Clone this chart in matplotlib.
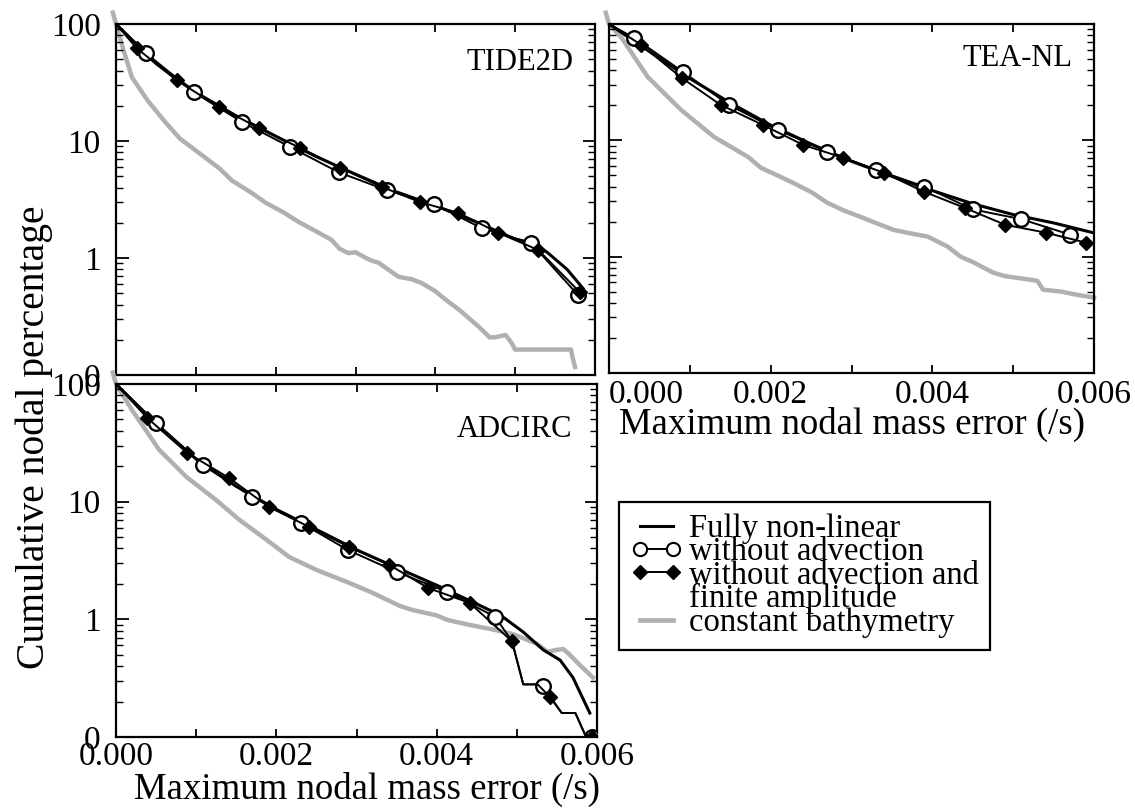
import matplotlib
matplotlib.use('Agg')
import matplotlib.pyplot as plt
from matplotlib.ticker import FixedLocator, LogLocator, NullFormatter, FixedFormatter
from matplotlib.lines import Line2D

# ---------------- data ----------------
x_ticks = [0.0, 0.001, 0.002, 0.003, 0.004, 0.005, 0.006]
x_tick_labels = ['0.000', '', '0.002', '', '0.004', '', '0.006']
y_ticks = [0.1, 1, 10, 100]
y_tick_labels = ['0', '1', '10', '100']

# TIDE2D
tide_full_x = [0, 0.0005, 0.001, 0.0015, 0.002, 0.0025, 0.003, 0.0035, 0.004, 0.0045, 0.005, 0.0052, 0.0054, 0.00565, 0.00585]
tide_full_y = [100, 46, 26, 16.5, 11, 7.4, 5.2, 3.7, 2.8, 2.05, 1.45, 1.35, 1.12, 0.8, 0.55]
tide_circ_x = [0, 0.00038, 0.00098, 0.00158, 0.00218, 0.00279, 0.00339, 0.00398, 0.00458, 0.00520, 0.00579]
tide_circ_y = [100, 56, 26, 14.5, 8.9, 5.4, 3.8, 2.9, 1.8, 1.34, 0.48]
tide_dia_x = [0, 0.00026, 0.00076, 0.00129, 0.00179, 0.00231, 0.00281, 0.00333, 0.00381, 0.00429, 0.00479, 0.00529, 0.00581]
tide_dia_y = [100, 62, 33, 19.5, 12.9, 8.7, 5.9, 4.05, 3.0, 2.43, 1.64, 1.17, 0.51]
tide_const_x = [-0.00004, 0, 0.0001, 0.0002, 0.0004, 0.000625, 0.0008, 0.00104, 0.0013, 0.00145, 0.0017,
                0.00188, 0.0021, 0.00229, 0.0025, 0.0027, 0.0028, 0.00291, 0.003, 0.00313, 0.0032, 0.00329,
                0.00354, 0.0037, 0.00383, 0.004, 0.00413, 0.0043, 0.00454, 0.00468, 0.00475, 0.00488, 0.00495,
                0.005, 0.0057, 0.00572, 0.00575]
tide_const_y = [125, 100, 58, 35, 22, 14.3, 10.5, 7.9, 5.8, 4.6, 3.6, 2.95, 2.45, 2.03, 1.7, 1.43, 1.2, 1.10,
                1.12, 1.0, 0.95, 0.91, 0.69, 0.66, 0.61, 0.52, 0.44, 0.36, 0.26, 0.21, 0.21, 0.22, 0.19,
                0.165, 0.165, 0.14, 0.117]

# TEA-NL
tea_full_x = [0, 0.0005, 0.001, 0.0015, 0.002, 0.0025, 0.003, 0.0035, 0.004, 0.0045, 0.005, 0.0055, 0.006]
tea_full_y = [100, 58, 34, 21, 13.5, 9.3, 6.6, 4.9, 3.7, 2.85, 2.3, 1.95, 1.6]
tea_circ_x = [0, 0.00031, 0.00091, 0.00148, 0.00209, 0.0027, 0.0033, 0.0039, 0.0045, 0.0051, 0.0057]
tea_circ_y = [100, 76, 39, 20.2, 12.3, 8.0, 5.6, 4.0, 2.55, 2.1, 1.55]
tea_dia_x = [0, 0.0004, 0.0009, 0.00138, 0.0019, 0.0024, 0.0029, 0.0034, 0.0039, 0.0044, 0.0049, 0.0054, 0.0059]
tea_dia_y = [100, 66, 34.4, 20.2, 13.6, 9.15, 7.07, 5.26, 3.61, 2.63, 1.88, 1.61, 1.32]
tea_const_x = [-0.00004, 0, 0.00015, 0.00048, 0.00089, 0.0013, 0.00172, 0.00188, 0.00212, 0.00228, 0.0025,
               0.0027, 0.0029, 0.00311, 0.0033, 0.00352, 0.0037, 0.00394, 0.00419, 0.00435, 0.0045, 0.00475,
               0.0049, 0.00517, 0.0053, 0.00537, 0.0056, 0.00579, 0.006]
tea_const_y = [125, 100, 77, 35, 18.3, 10.7, 7.2, 5.8, 4.86, 4.3, 3.6, 2.91, 2.5, 2.2, 1.95, 1.7, 1.6, 1.49,
               1.22, 1.0, 0.9, 0.73, 0.68, 0.64, 0.62, 0.52, 0.5, 0.47, 0.445]

# ADCIRC
adc_full_x = [0, 0.0005, 0.001, 0.0015, 0.002, 0.0025, 0.003, 0.0035, 0.004, 0.0045, 0.0048, 0.00508,
              0.00533, 0.00554, 0.0057, 0.00591]
adc_full_y = [100, 46, 23, 13.5, 8.6, 5.8, 3.9, 2.75, 1.95, 1.35, 1.08, 0.78, 0.55, 0.45, 0.32, 0.16]
adc_circ_x = [0, 0.0005, 0.00108, 0.0017, 0.00231, 0.00289, 0.0035, 0.00413, 0.00473, 0.00494, 0.00508,
              0.00526, 0.00533, 0.00546, 0.00556, 0.00573, 0.00585, 0.00594]
adc_circ_y = [100, 46.6, 20.5, 11.0, 6.6, 3.89, 2.53, 1.71, 1.05, 0.65, 0.28, 0.28, 0.27, 0.2, 0.16, 0.16,
              0.105, 0.1]
adc_circ_marks = [1, 2, 3, 4, 5, 6, 7, 8, 12, 17]
adc_dia_x = [0, 0.00039, 0.00089, 0.00141, 0.00191, 0.00241, 0.00291, 0.00341, 0.00389, 0.00441, 0.00494,
             0.00508, 0.00526, 0.00541, 0.00556, 0.00573, 0.00585, 0.00594]
adc_dia_y = [100, 51.4, 25.9, 15.9, 9.0, 6.1, 4.12, 2.9, 1.85, 1.38, 0.65, 0.28, 0.28, 0.22, 0.16, 0.16,
             0.105, 0.1]
adc_dia_marks = [1, 2, 3, 4, 5, 6, 7, 8, 9, 10, 13, 17]
adc_const_x = [-0.00004, 0, 0.0002, 0.00054, 0.00088, 0.00125, 0.00154, 0.00188, 0.00216, 0.0025, 0.00291,
               0.0032, 0.00354, 0.0037, 0.004, 0.00413, 0.0044, 0.0047, 0.00495, 0.00513, 0.00525, 0.00538,
               0.0055, 0.00558, 0.00566, 0.0058, 0.00595]
adc_const_y = [125, 100, 60, 27.5, 16.2, 10.3, 7.0, 4.73, 3.39, 2.63, 2.04, 1.68, 1.3, 1.2, 1.08, 0.99, 0.9,
               0.82, 0.75, 0.67, 0.62, 0.53, 0.55, 0.56, 0.5, 0.4, 0.32]

legend_labels = ['Fully non-linear', 'without advection', 'without advection and', 'finite amplitude',
                 'constant bathymetry']

# ---------------- style ----------------
plt.rcParams['font.family'] = ['Liberation Serif', 'DejaVu Serif']
FS = 22
TICK_FS = 24
GRAY = '#b0b0b0'

fig = plt.figure(figsize=(11.35, 8.08), dpi=100)


def fx(px):
    return px / 1135.0


def fy(py):
    return 1 - py / 808.0


def make_axes(l, t, r, b):
    return fig.add_axes([fx(l), fy(b), fx(r) - fx(l), fy(t) - fy(b)])


def style(ax, show_x, show_y, xpad=3):
    ax.set_yscale('log')
    ax.set_xlim(0, 0.006)
    ax.set_ylim(0.1, 100)
    for s in ax.spines.values():
        s.set_linewidth(1.6)
    ax.xaxis.set_major_locator(FixedLocator(x_ticks))
    ax.yaxis.set_major_locator(FixedLocator(y_ticks))
    ax.yaxis.set_minor_locator(LogLocator(base=10, subs=[2, 3, 4, 5, 6, 7, 8, 9]))
    ax.yaxis.set_minor_formatter(NullFormatter())
    ax.tick_params(which='both', direction='in', top=True, right=True, labelsize=TICK_FS)
    ax.tick_params(axis='x', which='major', length=6, width=1.3, pad=xpad)
    ax.tick_params(axis='y', which='major', length=9, width=1.3, pad=11)
    ax.tick_params(axis='y', which='minor', length=5, width=1.0)
    if show_x:
        ax.xaxis.set_major_formatter(FixedFormatter(x_tick_labels))
    else:
        ax.set_xticklabels([])
    if show_y:
        ax.yaxis.set_major_formatter(FixedFormatter(y_tick_labels))
    else:
        ax.set_yticklabels([])


def draw(ax, cx, cy, dx, dy, fxs, fys, gx, gy, cmarks=None, dmarks=None):
    if cmarks is None:
        cmarks = list(range(1, len(cx)))
    if dmarks is None:
        dmarks = list(range(1, len(dx)))
    ax.plot(gx, gy, color=GRAY, lw=3.2, clip_on=False, zorder=1, solid_joinstyle='round')
    ax.plot(fxs, fys, color='black', lw=2.2, zorder=3)
    ax.plot(cx, cy, color='black', lw=1.4, marker='o', ms=10.5, mfc='white', mec='black', mew=1.7,
            markevery=cmarks, zorder=4)
    ax.plot(dx, dy, color='black', lw=1.4, marker='D', ms=7.5, mfc='black', mec='black',
            markevery=dmarks, zorder=5)


ax1 = make_axes(116, 24, 595, 375)
ax2 = make_axes(609, 24, 1094, 373)
ax3 = make_axes(116, 384, 597, 737)

draw(ax1, tide_circ_x, tide_circ_y, tide_dia_x, tide_dia_y, tide_full_x, tide_full_y,
     tide_const_x, tide_const_y)
draw(ax2, tea_circ_x, tea_circ_y, tea_dia_x, tea_dia_y, tea_full_x, tea_full_y,
     tea_const_x, tea_const_y)
draw(ax3, adc_circ_x, adc_circ_y, adc_dia_x, adc_dia_y, adc_full_x, adc_full_y,
     adc_const_x, adc_const_y, adc_circ_marks, adc_dia_marks)

style(ax1, False, True)
style(ax2, True, False, xpad=5)
style(ax3, True, True, xpad=3)

# first TEA-NL tick label sits to the right of its tick in the original
ax2.get_xticklabels()[0].set_horizontalalignment('left')

ax1.text(0.955, 0.89, 'TIDE2D', transform=ax1.transAxes, ha='right', va='center', fontsize=FS)
ax2.text(0.955, 0.90, 'TEA-NL', transform=ax2.transAxes, ha='right', va='center', fontsize=FS)
ax3.text(0.948, 0.87, 'ADCIRC', transform=ax3.transAxes, ha='right', va='center', fontsize=FS)

ax2.set_xlabel('Maximum nodal mass error (/s)', fontsize=26.5)
ax2.xaxis.set_label_coords(0.502, -0.098)
ax3.set_xlabel('Maximum nodal mass error (/s)', fontsize=26.5)
ax3.xaxis.set_label_coords((367 - 116) / 481.0, -0.098)
fig.text(fx(34), fy(437), 'Cumulative nodal percentage', rotation=90, ha='center', va='center',
         fontsize=28.5)

# legend
h_full = Line2D([], [], color='black', lw=2.2)
h_circ = Line2D([], [], color='black', lw=1.4, marker='o', ms=9.5, mfc='white', mec='black', mew=1.5)
h_dia = Line2D([], [], color='black', lw=1.4, marker='D', ms=7, mfc='black', mec='black')
h_blank = Line2D([], [], color='none', lw=0)
h_const = Line2D([], [], color=GRAY, lw=3.4)
leg = fig.legend([h_full, h_circ, h_dia, h_blank, h_const], legend_labels, loc='upper left',
                 bbox_to_anchor=(fx(619), fy(502)), bbox_transform=fig.transFigure,
                 fontsize=23.5, numpoints=2, handlelength=1.6, handletextpad=0.18,
                 labelspacing=-0.22, borderpad=0.35, borderaxespad=0, frameon=True,
                 fancybox=False, edgecolor='black', framealpha=1)
leg.get_frame().set_linewidth(1.6)

fig.savefig('out.png', dpi=100)
